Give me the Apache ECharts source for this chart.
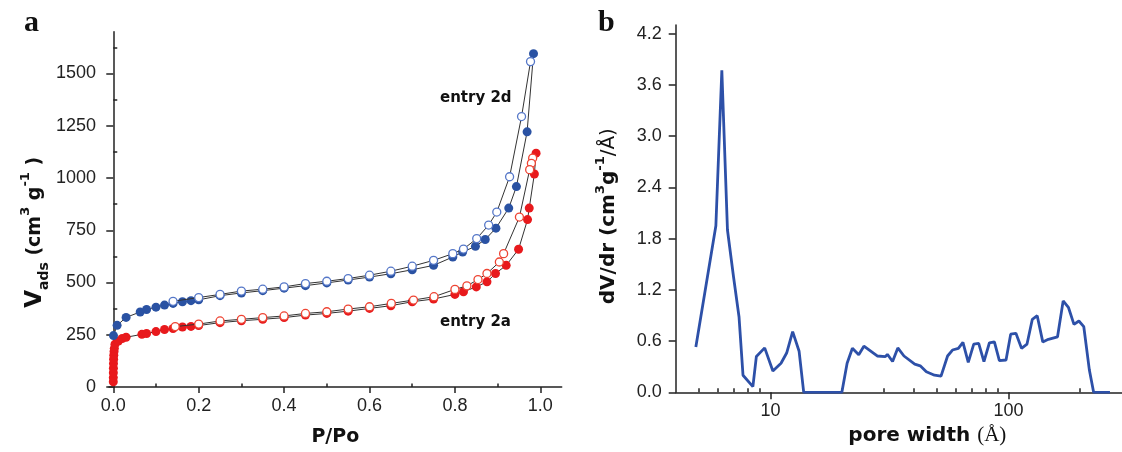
<!DOCTYPE html>
<html>
<head>
<meta charset="utf-8">
<script src="https://cdn.jsdelivr.net/npm/echarts@6/dist/echarts.min.js"></script>
<style>
html,body{margin:0;padding:0;background:#fff;}
#c{width:1122px;height:452px;}
</style>
</head>
<body>
<div id="c"></div>
<script>
// ---- Panel a: N2 isotherms ----
const adsP_2d = [0.0005,0.009,0.03,0.063,0.078,0.10,0.12,0.14,0.162,0.182,0.20,0.25,0.30,0.35,0.40,0.45,0.50,0.55,0.60,0.65,0.70,0.75,0.795,0.818,0.848,0.871,0.896,0.926,0.944,0.969,0.984];
const adsV_2d = [246,295,333,359,371,382,392,400,408,413,417,437,450,461,473,485,498,512,526,542,561,582,622,646,673,706,760,856,959,1221,1595];
const desP_2d = [0.977,0.956,0.928,0.898,0.879,0.851,0.82,0.795,0.75,0.70,0.65,0.60,0.55,0.50,0.45,0.40,0.35,0.30,0.25,0.20,0.14];
const desV_2d = [1557,1294,1006,837,775,710,660,638,606,578,554,535,519,506,495,479,468,459,443,428,410];
const adsP_2a = [0.00005,0.0001,0.0002,0.0003,0.0005,0.0008,0.0012,0.0018,0.0025,0.004,0.012,0.021,0.03,0.067,0.078,0.10,0.12,0.14,0.162,0.182,0.20,0.25,0.30,0.35,0.40,0.45,0.50,0.55,0.60,0.65,0.70,0.75,0.80,0.82,0.85,0.875,0.895,0.92,0.949,0.97,0.974,0.986,0.99];
const adsV_2a = [25,45,68,90,112,133,152,170,185,205,220,232,238,252,256,265,275,280,287,290,294,308,317,324,332,344,352,363,376,389,408,421,443,456,479,503,543,582,659,801,856,1019,1119];
const desP_2a = [0.982,0.979,0.975,0.951,0.914,0.904,0.875,0.854,0.828,0.80,0.751,0.703,0.651,0.60,0.55,0.50,0.45,0.40,0.35,0.30,0.25,0.20,0.145];
const desV_2a = [1095,1070,1040,813,638,598,543,514,484,467,432,416,400,384,373,360,352,340,332,324,316,301,289];
const xTicksA = [0,0.2,0.4,0.6,0.8,1.0];
const yTicksA = [0,250,500,750,1000,1250,1500];

// ---- Panel b: pore size distribution ----
const poreWidth = [4.86,5.9,6.25,6.6,7.0,7.38,7.67,8.44,8.73,9.46,10.24,11.08,11.7,12.4,13.2,13.8,15.5,17.5,19.96,21.0,22.1,23.5,24.7,28.1,30.4,31.0,32.6,34.3,36.4,40.4,42.6,45.2,48.9,52.1,55.5,58.2,61.6,64.4,67.8,71.5,75.0,78.9,83.2,87.3,91.6,97.7,102.2,107.5,113.5,119.7,126.0,132.1,139.4,147.2,160.8,169.8,178.6,188.5,197.7,207.3,218.8,228,245,267];
const dVdr = [0.53,1.95,3.77,1.9,1.35,0.885,0.2,0.066,0.42,0.52,0.25,0.34,0.46,0.71,0.48,0,0,0,0,0.34,0.515,0.44,0.54,0.425,0.417,0.445,0.36,0.52,0.425,0.33,0.31,0.24,0.2,0.19,0.425,0.495,0.515,0.585,0.35,0.565,0.573,0.36,0.58,0.59,0.37,0.378,0.68,0.69,0.515,0.565,0.855,0.897,0.59,0.62,0.65,1.07,0.995,0.795,0.835,0.768,0.26,0,0,0];
const xTicksB = [10,100];
const xMinorB = [5,6,7,8,9,20,30,40,50,60,70,80,90,200];
const yTicksB = [0,0.6,1.2,1.8,2.4,3.0,3.6,4.2];

const zip = (a,b) => a.map((v,i)=>[v,b[i]]);
const mids = t => t.slice(0,-1).map((v,i)=>(v+t[i+1])/2);
const xMinorA = mids(xTicksA);
const yMinorA = mids(yTicksA).concat([1625]);
const yMinorB = mids(yTicksB);

const LBL = {fontFamily:'Liberation Sans, Arial, sans-serif', fontSize:18, color:'#222'};
const AX = {lineStyle:{color:'#222', width:1.5}};
const TITLE = 'DejaVu Sans, sans-serif';

const chart = echarts.init(document.getElementById('c'), null, {renderer:'canvas'});
chart.setOption({
  animation:false,
  backgroundColor:'#fff',
  grid:[
    {left:109, top:31.7, width:452.7, height:357.3},
    {left:675.7, top:25, width:454, height:367.3}
  ],
  xAxis:[
    {type:'value', gridIndex:0, min:-0.01, max:1.05, splitLine:{show:false},
     axisLine:AX, axisTick:{customValues:xTicksA, length:6, lineStyle:{color:'#222',width:1.5}},
     axisLabel:Object.assign({customValues:xTicksA, margin:10, formatter:v=>v.toFixed(1)}, LBL),
     name:'P/Po', nameLocation:'middle', nameGap:41,
     nameTextStyle:{fontFamily:TITLE, fontWeight:'bold', fontSize:19, color:'#111'}},
    {type:'value', gridIndex:0, min:-0.01, max:1.05, splitLine:{show:false},
     axisLine:{show:false}, axisLabel:{show:false},
     axisTick:{customValues:xMinorA, length:3.5, lineStyle:{color:'#222',width:1.5}}},
    {type:'log', logBase:10, gridIndex:1, min:4, max:300, splitLine:{show:false},
     axisLine:AX, axisTick:{customValues:xTicksB, length:7, lineStyle:{color:'#222',width:1.5}},
     axisLabel:Object.assign({customValues:xTicksB, margin:10, formatter:v=>String(v)}, LBL),
     name:'{b|pore width }{s|(Å)}', nameLocation:'middle', nameGap:31,
     nameTextStyle:{padding:[0,0,0,57], rich:{
       b:{fontFamily:TITLE, fontWeight:'bold', fontSize:20, color:'#111'},
       s:{fontFamily:'Liberation Serif, serif', fontSize:21, color:'#111'}}}},
    {type:'log', logBase:10, gridIndex:1, min:4, max:300, splitLine:{show:false},
     axisLine:{show:false}, axisLabel:{show:false},
     axisTick:{customValues:xMinorB, length:4, lineStyle:{color:'#222',width:1.5}}}
  ],
  yAxis:[
    {type:'value', gridIndex:0, min:0, max:1700, splitLine:{show:false},
     axisLine:AX, axisTick:{customValues:yTicksA, length:7, lineStyle:{color:'#222',width:1.5}},
     axisLabel:Object.assign({customValues:yTicksA, margin:13, formatter:v=>String(v)}, LBL),
     name:'{v|V}{sub|ads}{n| (cm}{sup|3}{n| g}{sup|-1}{n| )}', nameLocation:'middle', nameGap:58,
     nameTextStyle:{padding:[0,46,0,0], rich:{
       v:{fontFamily:TITLE, fontWeight:'bold', fontSize:23, lineHeight:32, color:'#111'},
       sub:{fontFamily:TITLE, fontWeight:'bold', fontSize:14, verticalAlign:'bottom', color:'#111'},
       n:{fontFamily:TITLE, fontWeight:'bold', fontSize:19, color:'#111'},
       sup:{fontFamily:TITLE, fontWeight:'bold', fontSize:13, verticalAlign:'top', color:'#111'}}}},
    {type:'value', gridIndex:0, min:0, max:1700, splitLine:{show:false},
     axisLine:{show:false}, axisLabel:{show:false},
     axisTick:{customValues:yMinorA, length:4, lineStyle:{color:'#222',width:1.5}}},
    {type:'value', gridIndex:1, min:0, max:4.3, splitLine:{show:false},
     axisLine:AX, axisTick:{customValues:yTicksB, length:7, lineStyle:{color:'#222',width:1.5}},
     axisLabel:Object.assign({customValues:yTicksB, margin:14, formatter:v=>v.toFixed(1)}, LBL),
     name:'{n|dV/dr (cm}{sup|3}{n|g}{sup|-1}{r|/Å)}', nameLocation:'middle', nameGap:52,
     nameTextStyle:{padding:[0,15,0,0], rich:{
       n:{fontFamily:TITLE, fontWeight:'bold', fontSize:20, lineHeight:30, color:'#111'},
       sup:{fontFamily:TITLE, fontWeight:'bold', fontSize:13, verticalAlign:'top', color:'#111'},
       r:{fontFamily:TITLE, fontSize:20, color:'#111'}}}},
    {type:'value', gridIndex:1, min:0, max:4.3, splitLine:{show:false},
     axisLine:{show:false}, axisLabel:{show:false},
     axisTick:{customValues:yMinorB, length:4, lineStyle:{color:'#222',width:1.5}}}
  ],
  series:[
    {type:'line', xAxisIndex:0, yAxisIndex:0, data:zip(adsP_2a,adsV_2a), symbol:'circle', symbolSize:9,
     itemStyle:{color:'#e8191c'}, lineStyle:{color:'#333', width:1}, z:2},
    {type:'line', xAxisIndex:0, yAxisIndex:0, data:zip(desP_2a,desV_2a), symbol:'circle', symbolSize:8,
     itemStyle:{color:'#fff', borderColor:'#ee4433', borderWidth:1.3}, lineStyle:{color:'#333', width:1}, z:3},
    {type:'line', xAxisIndex:0, yAxisIndex:0, data:zip(adsP_2d,adsV_2d), symbol:'circle', symbolSize:9,
     itemStyle:{color:'#2a52a3'}, lineStyle:{color:'#333', width:1}, z:4},
    {type:'line', xAxisIndex:0, yAxisIndex:0, data:zip(desP_2d,desV_2d), symbol:'circle', symbolSize:8,
     itemStyle:{color:'#fff', borderColor:'#5577c8', borderWidth:1.3}, lineStyle:{color:'#333', width:1}, z:5},
    {type:'line', xAxisIndex:2, yAxisIndex:2, data:zip(poreWidth,dVdr), symbol:'none',
     lineStyle:{color:'#2d50a8', width:2.8}}
  ],
  graphic:[
    {type:'text', left:24, top:8, style:{text:'a', font:'bold 30px "Liberation Serif", serif', fill:'#111'}},
    {type:'text', left:598, top:8, style:{text:'b', font:'bold 30px "Liberation Serif", serif', fill:'#111'}},
    {type:'text', left:440, top:91, style:{text:'entry 2d', font:'bold 15px "DejaVu Sans", sans-serif', fill:'#111'}},
    {type:'text', left:440, top:315, style:{text:'entry 2a', font:'bold 15px "DejaVu Sans", sans-serif', fill:'#111'}}
  ]
});
</script>
</body>
</html>
